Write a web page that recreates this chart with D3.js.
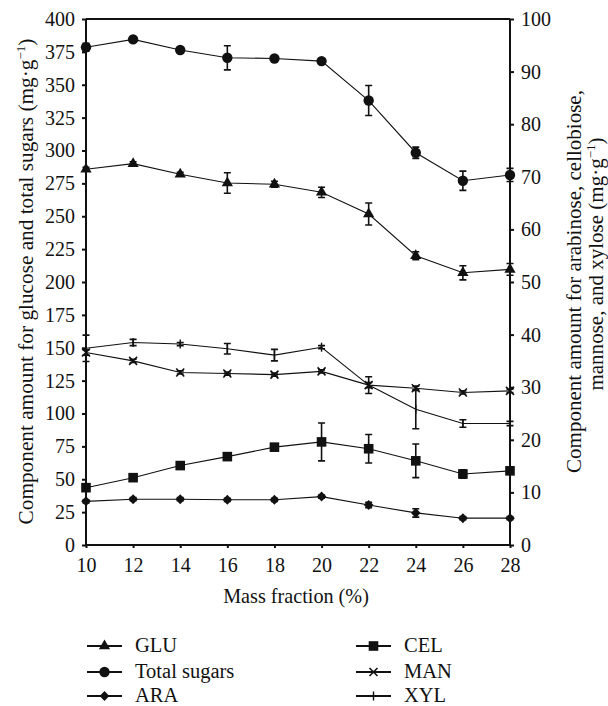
<!DOCTYPE html>
<html>
<head>
<meta charset="utf-8">
<script src="https://cdn.jsdelivr.net/npm/d3@7"></script>
<style>
  body { margin: 0; background: #fff; }
  text { font-family: "Liberation Serif", "DejaVu Serif", serif; fill: #111; }
</style>
</head>
<body>
<div id="chart"></div>
<script>
const fractions = [10, 12, 14, 16, 18, 20, 22, 24, 26, 28];

// left axis (mg/g)
const totalSugars = [378.5, 384.5, 376.4, 370.5, 370, 368, 338, 298.3, 277, 281.4];
const totalErr    = [3, 1, 1, 9.2, 1.5, 1.5, 11.4, 4.3, 7.3, 5];
const glu         = [285.7, 290, 281.9, 275.3, 274.3, 268.2, 251.7, 220, 207, 209.6];
const gluErr      = [1.5, 1.5, 1.5, 7.8, 2.3, 3.9, 8.4, 3, 5.4, 4.5];

// right axis (mg/g)
const xyl    = [37.4, 38.5, 38.2, 37.3, 36.1, 37.6, 30.4, 25.8, 23.1, 23.1];
const xylErr = [2.5, 0.6, 0.3, 1, 1.1, 0.3, 1.6, 3.7, 0.7, 0.4];
const man    = [36.6, 35.0, 32.8, 32.6, 32.4, 33.0, 30.4, 29.8, 29.0, 29.3];
const manErr = [0.5, 0.3, 0.3, 0.3, 0.3, 0.3, 0.5, 0.4, 0.3, 0.3];
const cel    = [10.9, 12.8, 15.1, 16.8, 18.6, 19.6, 18.3, 16.0, 13.5, 14.1];
const celErr = [0.4, 0.4, 0.4, 0.4, 0.4, 3.6, 2.7, 3.2, 0.8, 0.4];
const ara    = [8.3, 8.7, 8.7, 8.6, 8.6, 9.2, 7.6, 6.1, 5.1, 5.1];
const araErr = [0.3, 0.3, 0.3, 0.3, 0.3, 0.3, 0.5, 0.8, 0.3, 0.3];

const leftTicks = d3.range(0, 401, 25);
const rightTicks = d3.range(0, 101, 10);

const width = 608, height = 706;
const margin = {top: 19, right: 98, bottom: 161, left: 86};

const svg = d3.select("#chart").append("svg")
  .attr("width", width).attr("height", height);

const x = d3.scaleLinear().domain([10, 28]).range([margin.left, width - margin.right]);
const yL = d3.scaleLinear().domain([0, 400]).range([height - margin.bottom, margin.top]);
const yR = d3.scaleLinear().domain([0, 100]).range([height - margin.bottom, margin.top]);

const series = [
  {name: "GLU", values: glu, err: gluErr, y: yL, sym: "triangle"},
  {name: "Total sugars", values: totalSugars, err: totalErr, y: yL, sym: "circle"},
  {name: "ARA", values: ara, err: araErr, y: yR, sym: "diamond"},
  {name: "CEL", values: cel, err: celErr, y: yR, sym: "square"},
  {name: "MAN", values: man, err: manErr, y: yR, sym: "cross"},
  {name: "XYL", values: xyl, err: xylErr, y: yR, sym: "plus"}
];

function drawMarker(g, sym, cx, cy) {
  if (sym === "circle") {
    g.append("circle").attr("cx", cx).attr("cy", cy).attr("r", 5.2).attr("fill", "#111");
  } else if (sym === "triangle") {
    g.append("path").attr("d", d3.symbol(d3.symbolTriangle, 55)())
      .attr("transform", `translate(${cx},${cy})`).attr("fill", "#111");
  } else if (sym === "square") {
    g.append("rect").attr("x", cx - 4.8).attr("y", cy - 4.8)
      .attr("width", 9.6).attr("height", 9.6).attr("fill", "#111");
  } else if (sym === "diamond") {
    g.append("path").attr("d", `M${cx},${cy - 5}L${cx + 4.8},${cy}L${cx},${cy + 5}L${cx - 4.8},${cy}Z`)
      .attr("fill", "#111");
  } else if (sym === "cross") {
    g.append("path").attr("d", `M${cx - 4},${cy - 4}L${cx + 4},${cy + 4}M${cx - 4},${cy + 4}L${cx + 4},${cy - 4}`)
      .attr("stroke", "#111").attr("stroke-width", 1.6);
  } else if (sym === "plus") {
    g.append("path").attr("d", `M${cx},${cy - 4.5}L${cx},${cy + 4.5}`)
      .attr("stroke", "#111").attr("stroke-width", 1.4);
  }
}

const plot = svg.append("g");

series.forEach(s => {
  const g = plot.append("g");
  const line = d3.line().x((d, i) => x(fractions[i])).y(d => s.y(d));
  g.append("path").datum(s.values).attr("d", line)
    .attr("fill", "none").attr("stroke", "#111").attr("stroke-width", 1.1);
  s.values.forEach((v, i) => {
    const cx = x(fractions[i]);
    const y0 = s.y(v - s.err[i]), y1 = s.y(v + s.err[i]);
    g.append("path")
      .attr("d", `M${cx},${y0}V${y1}M${cx - 3.5},${y0}H${cx + 3.5}M${cx - 3.5},${y1}H${cx + 3.5}`)
      .attr("stroke", "#111").attr("stroke-width", 1.6).attr("fill", "none");
    drawMarker(g, s.sym, cx, s.y(v));
  });
});

// axes
const axisL = svg.append("g").attr("transform", `translate(${margin.left},0)`)
  .call(d3.axisLeft(yL).tickValues(leftTicks).tickSize(4).tickPadding(7));
const axisR = svg.append("g").attr("transform", `translate(${width - margin.right},0)`)
  .call(d3.axisRight(yR).tickValues(rightTicks).tickSize(4).tickPadding(7));
const axisB = svg.append("g").attr("transform", `translate(0,${height - margin.bottom})`)
  .call(d3.axisBottom(x).tickValues(fractions).tickSize(3).tickPadding(10));

[axisL, axisR, axisB].forEach(a => {
  a.select(".domain").attr("stroke", "#111").attr("stroke-width", 2);
  a.selectAll(".tick line").attr("stroke", "#111").attr("stroke-width", 2);
  a.selectAll(".tick text").attr("font-size", 20).attr("fill", "#111")
    .style("font-family", '"Liberation Serif", serif');
});
axisL.select(".domain").attr("d", `M0,${yL(0)}V${yL(400)}`);
axisR.select(".domain").attr("d", `M0,${yR(0)}V${yR(100)}`);
axisB.select(".domain").attr("d", `M${x(10)},0H${x(28)}`);

// top border
svg.append("line").attr("x1", x(10)).attr("x2", x(28))
  .attr("y1", yL(400)).attr("y2", yL(400))
  .attr("stroke", "#111").attr("stroke-width", 2);

// shrink/grow a title so it spans the wanted length
function fitText(t, len) {
  const cur = t.node().getComputedTextLength();
  const fs = parseFloat(t.attr("font-size"));
  t.attr("font-size", fs * len / cur);
}

// axis titles
svg.append("text")
  .attr("x", 296).attr("y", 603)
  .attr("text-anchor", "middle").attr("font-size", 20.2)
  .text("Mass fraction (%)");

const lt = svg.append("text")
  .attr("transform", "translate(33,281.5) rotate(-90)")
  .attr("text-anchor", "middle").attr("font-size", 20);
lt.append("tspan").text("Component amount for glucose and total sugars (mg·g");
lt.append("tspan").attr("dy", -8).attr("font-size", 13).text("−1");
lt.append("tspan").attr("dy", 8).text(")");
fitText(lt, 487);

const rt1 = svg.append("text")
  .attr("transform", "translate(581,281.5) rotate(-90)")
  .attr("text-anchor", "middle").attr("font-size", 20)
  .text("Component amount for arabinose, cellobiose,");
fitText(rt1, 383);
const rt2 = svg.append("text")
  .attr("transform", "translate(603,264) rotate(-90)")
  .attr("text-anchor", "middle").attr("font-size", rt1.attr("font-size"));
rt2.append("tspan").text("mannose, and xylose (mg·g");
rt2.append("tspan").attr("dy", -8).attr("font-size", 13).text("−1");
rt2.append("tspan").attr("dy", 8).text(")");

// legend
const legendPos = [
  {col: 0, row: 0}, {col: 0, row: 1}, {col: 0, row: 2},
  {col: 1, row: 0}, {col: 1, row: 1}, {col: 1, row: 2}
];
const colX = [87, 356], rowY = [646, 672, 696];
series.forEach((s, i) => {
  const p = legendPos[i];
  const lx = colX[p.col], ly = rowY[p.row];
  const g = svg.append("g");
  g.append("line").attr("x1", lx).attr("x2", lx + 35).attr("y1", ly).attr("y2", ly)
    .attr("stroke", "#111").attr("stroke-width", 1.8);
  drawMarker(g, s.sym, lx + 17.5, ly);
  g.append("text").attr("x", lx + 48).attr("y", ly + 5.5)
    .attr("font-size", 20.5).text(s.name);
});
</script>
</body>
</html>
